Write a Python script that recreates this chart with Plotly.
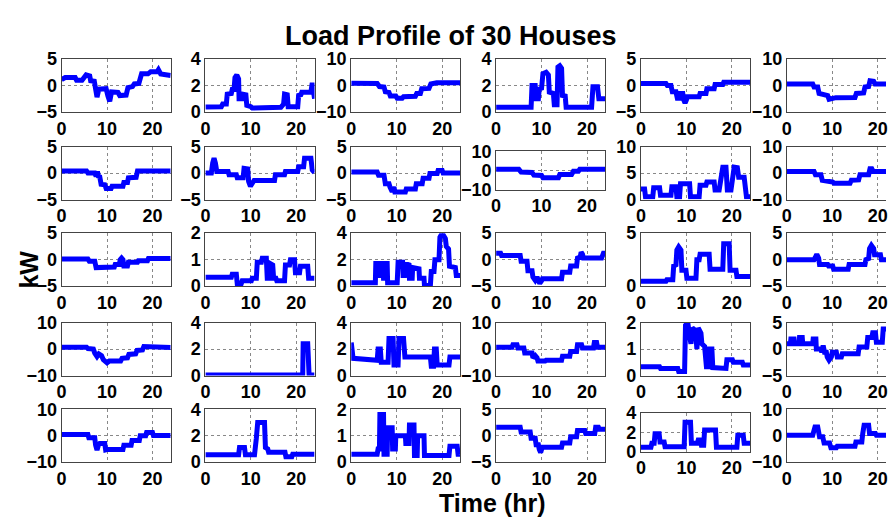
import plotly.graph_objects as go

# ---- data: (hour, kW) breakpoints ----
house01 = [(0,1.1),(0.8,1.5),(3,1.5),(3.3,1.0),(4.5,1.0),(5.4,2.0),(6.2,1.8),(6.4,0.9),(7.2,0.8),(7.5,-1.0),(7.8,-2.2),(8.2,-0.7),(9.8,-0.6),(10.2,-2.0),(10.6,-3.0),(11,-1.2),(12.4,-1.3),(12.8,-1.9),(14.2,-1.8),(14.6,-0.4),(15.6,-0.2),(16,0.3),(17,0.4),(17.6,2.2),(19,2.2),(19.6,2.6),(21,2.6),(21.3,3.0),(21.8,2.2),(24,1.9)]
house02 = [(0,0.37),(3.5,0.4),(3.8,0.6),(4.6,0.6),(4.8,1.35),(5.7,1.4),(5.9,1.7),(6.3,1.7),(6.5,2.6),(6.9,2.8),(7.3,2.5),(7.4,1.0),(8,1.0),(8.2,1.35),(8.9,1.3),(9.1,0.5),(10,0.4),(10.3,0.3),(16.6,0.35),(16.9,0.5),(17.2,0.6),(17.4,1.35),(18,1.3),(18.2,0.4),(20.3,0.4),(20.5,1.25),(21,1.3),(21.2,1.5),(23.2,1.5),(23.5,2.2),(23.8,1.1),(24,1.0)]
house03 = [(0,0.9),(5.7,0.8),(6.2,-0.4),(7.2,-0.6),(7.5,-2.4),(8.3,-2.6),(8.6,-4.0),(9.8,-4.0),(10.1,-4.8),(11.2,-4.8),(11.5,-4.2),(14.1,-4.1),(14.4,-3.0),(15.2,-3.0),(15.5,-1.2),(17.1,-1.1),(17.5,0.6),(18.5,0.8),(18.8,1.0),(24,1.0)]
house04 = [(0,0.35),(7.7,0.35),(7.9,2.0),(8.6,2.0),(8.8,1.0),(9.3,1.0),(9.5,1.75),(10,1.8),(10.3,2.9),(11,3.0),(11.5,2.8),(11.7,1.5),(12.6,1.4),(12.8,0.55),(13.4,0.55),(13.6,3.4),(14,3.5),(14.4,3.3),(14.6,1.25),(15.2,1.2),(15.4,0.35),(21,0.35),(21.3,1.9),(22.3,1.9),(22.6,1.0),(24,1.0)]
house05 = [(0,0.4),(5.5,0.4),(5.8,0),(6.6,0),(6.9,-1.2),(7.7,-1.2),(8,-2.4),(8.5,-2.4),(8.7,-1.5),(9.2,-1.5),(9.4,-2.7),(9.7,-3.3),(10,-2.7),(10.2,-2.1),(12.8,-2.1),(13,-1.5),(14.3,-1.5),(14.5,-0.6),(16.1,-0.6),(16.3,0.2),(18,0.2),(18.2,0.6),(24,0.6)]
house06 = [(0,0.6),(5.7,0.6),(6,-0.6),(6.8,-0.6),(7.1,-3),(7.9,-3.2),(8.2,-3.6),(9,-3.8),(9.3,-5.2),(10.5,-5.0),(10.8,-4.6),(15,-4.5),(15.3,-3),(16.9,-2.8),(17.2,-0.6),(18,-0.4),(18.3,1.8),(19.1,1.6),(19.4,0.6),(24,0.6)]
house07 = [(0,0.4),(5.5,0.4),(5.8,0),(7.3,0),(7.6,-0.6),(7.9,0.3),(8.1,-0.6),(8.4,-0.7),(8.7,-2.1),(9.5,-2.2),(9.8,-2.9),(10.9,-2.9),(11.1,-2.5),(13.5,-2.5),(13.7,-1.8),(14.5,-1.8),(14.7,-0.9),(16.4,-0.8),(16.7,0.4),(24,0.4)]
house08 = [(0,0),(1.3,0),(1.6,1.9),(1.9,2.8),(2.2,1.9),(2.5,0.3),(5,0.3),(5.2,-0.3),(6.8,-0.3),(7,-0.9),(8.3,-0.9),(8.5,0.9),(9.3,0.8),(9.5,-1.6),(9.9,-2.5),(10.5,-1.6),(10.7,-1.4),(15.2,-1.4),(15.4,-0.3),(17.4,-0.3),(17.6,0.3),(20.3,0.3),(20.5,1.2),(21.6,1.2),(21.8,2.8),(23.2,2.8),(23.5,0.6),(24,0.1)]
house09 = [(0,0.2),(5.7,0.2),(6,-0.4),(7.2,-0.4),(7.5,-2),(8.3,-2),(8.5,-2.6),(9,-3.5),(9.4,-2.6),(9.6,-3.6),(11.9,-3.6),(12.1,-3),(14.1,-3),(14.3,-2),(15.6,-2),(15.8,-1),(17.1,-1),(17.3,-0.1),(18.9,-0.1),(19.1,0.5),(20,0.5),(20.2,0),(24,0)]
house10 = [(0,0.7),(5,0.7),(5.5,-0.7),(7.9,-0.9),(8.3,-2.3),(10,-2.5),(10.3,-3.7),(13.7,-3.7),(14,-2),(16.6,-2),(17,-0.3),(18.1,-0.3),(18.4,0.7),(24,0.7)]
house11 = [(0,2),(0.8,2),(1,0.5),(2.6,0.5),(2.8,2.2),(4.1,2.2),(4.3,0.8),(6.6,0.8),(6.8,2.4),(7.7,2.4),(7.9,0.5),(8.5,0.5),(8.7,3.0),(10.7,3.0),(10.9,0.5),(12.8,0.5),(13,2.7),(14.3,2.7),(14.5,3.3),(16.1,3.3),(16.3,1.8),(17.2,1.8),(18,6.1),(18.7,6.1),(19,1.8),(19.8,1.8),(20.5,6.1),(21.2,6.0),(21.5,4.2),(22.7,4.2),(23.2,0.5),(24,0.5)]
house12 = [(0,0.6),(6,0.6),(6.3,-0.6),(7.5,-0.6),(7.8,-2.7),(8.6,-2.8),(8.9,-3.3),(10.1,-3.4),(10.4,-3.9),(13.9,-3.9),(14.2,-2.7),(15.8,-2.6),(16.1,-0.6),(18,-0.6),(18.3,1.6),(18.7,1.6),(19,0.6),(24,0.6)]
house13 = [(0,0.1),(5.8,0.1),(6.1,-0.3),(7.3,-0.3),(7.6,-1.5),(8.7,-1.5),(8.9,-1.4),(11.6,-1.4),(11.8,-0.9),(12.7,-0.9),(12.9,0),(13.2,0.3),(13.5,0),(13.7,-1.2),(14.5,-1.2),(14.7,-0.5),(16.7,-0.5),(16.9,-0.2),(18.9,-0.2),(19.1,0.2),(24,0.2)]
house14 = [(0,0.33),(5.7,0.33),(5.9,0.45),(6.8,0.45),(7,0.1),(7.9,0.1),(8.1,0.2),(10.1,0.2),(10.3,0.3),(11.2,0.3),(11.4,0.9),(12.3,0.9),(12.5,1.05),(13.4,1.05),(13.6,0.3),(14.1,0.3),(14.3,0.85),(14.8,0.8),(15,0.3),(15.5,0.3),(15.7,0.2),(17.4,0.2),(17.6,0.8),(18.5,0.8),(18.7,1.0),(19.6,1.0),(19.8,0.5),(20.7,0.5),(20.9,0.75),(22.5,0.75),(22.7,0.3),(24,0.3)]
house15 = [(0,0.25),(5.3,0.25),(5.4,1.7),(6,1.7),(6.1,0.8),(6.4,0.8),(6.5,1.7),(7,1.7),(7.1,0.6),(7.3,0.6),(7.4,1.7),(7.9,1.7),(8,0.25),(10.1,0.25),(10.3,1.8),(11.3,1.8),(11.4,0.8),(11.7,0.8),(11.8,1.7),(12.7,1.6),(12.8,0.6),(13.4,0.6),(13.5,1.4),(14.9,1.3),(15,0.6),(16,0.6),(16.1,0.05),(17.4,0.05),(17.6,1.1),(18.2,1.1),(18.4,2.0),(19.3,2.0),(19.5,3.7),(20,4.0),(20.7,3.6),(20.9,3.0),(21.4,2.8),(21.6,1.5),(22.9,1.4),(23.1,0.8),(24,0.8)]
house16 = [(0,1.2),(1,1.2),(1.2,0.8),(5.3,0.8),(5.5,-0.3),(6.8,-0.3),(7,-2.1),(7.9,-2.1),(8.1,-3.3),(8.6,-3.9),(9,-3.3),(9.2,-4.0),(9.6,-4.5),(10,-4.0),(10.2,-3.6),(14.4,-3.6),(14.6,-2.4),(16.2,-2.4),(16.4,-1.2),(17.7,-1.2),(17.9,0.3),(18.5,0.5),(18.7,1.4),(19.0,1.0),(19.2,0.3),(23.2,0.3),(23.6,1.2),(24,1.2)]
house17 = [(0,0.45),(5.5,0.45),(5.7,0.6),(7,0.6),(7.2,1.9),(7.7,2.0),(7.9,3.4),(8.3,3.7),(8.8,3.4),(9,1.5),(9.9,1.5),(10.1,0.75),(12.1,0.75),(12.3,2.5),(12.8,2.5),(13,3.0),(15,3.0),(15.2,1.6),(18,1.6),(18.2,4.0),(19.4,4.0),(19.6,1.5),(20.9,1.5),(21.1,0.9),(24,0.9)]
house18 = [(0,0),(6,0),(6.2,0.3),(6.6,1.0),(7,0.3),(7.2,-0.9),(9,-0.9),(9.2,-1.2),(10.1,-1.2),(10.3,-1.8),(13.5,-1.8),(13.7,-0.9),(17.2,-0.9),(17.4,0),(18,0.2),(18.2,2.1),(18.6,2.7),(19.1,2.1),(19.3,0.9),(20.6,0.9),(20.8,0),(24,0)]
house19 = [(0,0.7),(5.5,0.7),(5.8,0.2),(7,0),(7.3,-1.5),(7.8,-2.8),(8.2,-1.8),(8.8,-2.5),(9.2,-4),(10,-5.2),(10.5,-4.5),(13,-4.5),(13.3,-3.5),(14.5,-3.3),(14.8,-2),(16.3,-1.8),(16.6,-0.5),(17.8,-0.3),(18.1,1),(19,1),(19.3,0.6),(24,0.6)]
house20 = [(0,0.05),(21.4,0.05),(21.5,2.4),(22.5,2.4),(22.8,0.05),(24,0.05)]
house21 = [(0,2.5),(0.4,1.3),(5.7,1.15),(5.9,2.0),(6.4,2.0),(6.6,1.0),(8.1,1.0),(8.3,2.8),(9.2,2.8),(9.4,0.8),(10.3,0.8),(10.5,2.8),(11.5,2.8),(11.8,1.4),(17.4,1.4),(17.6,0.7),(18.1,0.7),(18.3,2.0),(18.7,2.0),(18.9,0.8),(21.5,0.8),(21.7,1.4),(24,1.4)]
house22 = [(0,0.7),(3.5,0.7),(3.7,1.6),(4.6,1.6),(4.8,0.4),(6.1,0.4),(6.3,-1.5),(7.9,-1.5),(8.1,-3.3),(8.6,-2.5),(9,-3.3),(9.2,-4.5),(10.8,-4.5),(11,-4.2),(14.4,-4.2),(14.6,-2.7),(16.2,-2.7),(16.4,-0.9),(17.7,-0.9),(17.9,1.6),(18.8,1.6),(19,0.4),(21.4,0.4),(21.6,2.5),(22.1,2.5),(22.3,0.7),(24,0.7)]
house23 = [(0,0.33),(4.1,0.33),(4.3,0.27),(8.1,0.27),(8.3,0.15),(9.6,0.15),(9.8,1.9),(10.3,2.0),(10.7,1.5),(11,1.2),(11.3,1.8),(12,1.7),(12.3,1.0),(12.6,1.8),(13.2,1.6),(13.4,1.2),(14,1.1),(14.2,0.8),(14.4,0.33),(14.8,0.33),(15,1.0),(15.6,1.0),(15.8,0.3),(18.7,0.27),(18.9,0.6),(20.1,0.6),(20.3,0.5),(22.3,0.5),(22.5,0.4),(24,0.4)]
house24 = [(0,1),(0.8,1),(0.9,1.9),(1.6,1.9),(1.7,1),(2.7,1),(2.8,2.2),(3.4,2.2),(3.5,1),(5.7,1),(5.8,1.9),(6.4,1.9),(6.5,0),(7.5,0),(7.7,-0.6),(8,0.7),(8.3,-0.6),(8.7,-0.6),(8.9,-1.5),(9.3,-2.1),(9.8,-1.5),(10,-0.6),(10.9,-0.6),(11.1,-1.5),(12,-1.5),(12.2,-0.9),(15.7,-0.9),(15.9,0.4),(17.6,0.4),(17.8,2.2),(18.7,2.2),(18.9,3.1),(19.5,3.1),(19.7,1.3),(21,1.3),(21.2,3.8),(24,3.8)]
house25 = [(0,0.4),(5.8,0.4),(6,-0.8),(7.3,-0.8),(7.5,-3.6),(7.8,-5.4),(8.1,-3.6),(8.4,-3.0),(9.5,-3.0),(9.7,-5.4),(10.2,-5.2),(13.5,-5.2),(13.7,-3.6),(15.3,-3.6),(15.5,-1.8),(17.1,-1.8),(17.3,0),(18.5,0),(18.7,1.2),(20,1.2),(20.2,0.1),(24,0.1)]
house26 = [(0,0.55),(7.3,0.55),(7.5,1.1),(8.6,1.1),(8.8,0.55),(10.8,0.55),(11.2,1.8),(11.5,3.0),(13,3.0),(13.2,1.1),(13.7,1.0),(13.9,0.75),(17.5,0.75),(17.7,0.4),(19,0.4),(19.2,0.6),(24,0.6)]
house27 = [(0,0.3),(5.7,0.3),(5.9,0.5),(6.2,0.5),(6.3,1.8),(7.1,1.8),(7.2,0.3),(7.9,0.3),(8.0,1.3),(9,1.3),(9.1,0.5),(9.7,0.5),(9.8,1.0),(11.9,1.0),(12.0,0.7),(12.7,0.7),(12.8,1.4),(13.8,1.4),(13.9,0.25),(14.5,0.25),(14.6,1.0),(16,1.0),(16.1,0.25),(21.5,0.25),(21.7,0.6),(23.3,0.6),(23.5,0.3),(24,0.3)]
house28 = [(0,1.6),(5.3,1.6),(5.5,0.7),(7.5,0.7),(7.7,-0.5),(8.6,-0.5),(8.8,-1.7),(9.3,-1.7),(9.5,-2.6),(9.8,-3.2),(10,-2.6),(10.2,-2.2),(14.4,-2.2),(14.6,-1.4),(16.2,-1.4),(16.4,-0.2),(17.7,-0.2),(17.9,1.0),(19.5,1.0),(19.7,0.4),(21.7,0.4),(21.9,1.6),(22.5,1.6),(22.7,1.2),(24,1.2)]
house29 = [(0,0.45),(2.2,0.45),(2.4,0.85),(2.9,0.85),(3.1,1.85),(4,1.85),(4.2,1.0),(5.1,1.0),(5.3,0.5),(9.5,0.5),(9.7,3.05),(10.9,3.05),(11.1,0.85),(12.4,0.85),(12.6,1.2),(13.1,1.2),(13.3,0.65),(13.8,0.65),(14,2.25),(16.4,2.25),(16.6,0.45),(21.1,0.45),(21.3,1.7),(22.5,1.7),(22.7,0.85),(24,0.85)]
house30 = [(0,0.2),(5.7,0.2),(6.2,3.3),(6.8,3.3),(7.2,-0.4),(7.9,-0.4),(8.2,-2.8),(9.4,-2.8),(9.7,-4.6),(10.9,-4.6),(11.1,-4.0),(15,-4.0),(15.2,-2.4),(16.5,-2.4),(16.7,0.8),(17,3.9),(18,3.9),(18.2,0.8),(19.5,0.8),(19.7,0.2),(24,0.2)]

houses = [house01, house02, house03, house04, house05, house06,
          house07, house08, house09, house10, house11, house12,
          house13, house14, house15, house16, house17, house18,
          house19, house20, house21, house22, house23, house24,
          house25, house26, house27, house28, house29, house30]

y_limits = [(-5,5),(0,4),(-10,10),(0,4),(-5,5),(-10,10),
            (-5,5),(-5,5),(-5,5),(-10,10),(0,10),(-10,10),
            (-5,5),(0,2),(0,4),(-5,5),(0,5),(-5,5),
            (-10,10),(0,4),(0,4),(-10,10),(0,2),(-5,5),
            (-10,10),(0,4),(0,2),(-5,5),(0,4),(-10,10)]
y_ticks = [[-5,0,5],[0,2,4],[-10,0,10],[0,2,4],[-5,0,5],[-10,0,10],
           [-5,0,5],[-5,0,5],[-5,0,5],[-10,0,10],[0,5,10],[-10,0,10],
           [-5,0,5],[0,1,2],[0,2,4],[-5,0,5],[0,5],[-5,0,5],
           [-10,0,10],[0,2,4],[0,2,4],[-10,0,10],[0,1,2],[-5,0,5],
           [-10,0,10],[0,2,4],[0,1,2],[-5,0,5],[0,2,4],[-10,0,10]]
x_ticks = [0, 10, 20]
hour_span = 24
title_text = "Load Profile of 30 Houses"
x_title = "Time (hr)"
y_title = "kW"

# ---- layout geometry (pixels) ----
W, H = 888, 526
col_left = [57, 202, 349, 495, 641, 788]
row_top = [51, 142, 232, 325, 415]
box_w, box_h = 110, 55
special_box = {10: (147, 187), 29: (419, 459)}

FONT = "Liberation Sans, Arial, Helvetica, sans-serif"
tickfont = dict(family=FONT, size=18, color="black", weight="bold")

fig = go.Figure()
layout = {}
for i, pts in enumerate(houses):
    n = i + 1
    r, c = divmod(i, 6)
    x0 = col_left[c]
    x1 = min(x0 + box_w, W)
    y0, y1 = special_box.get(n, (row_top[r], row_top[r] + box_h))
    xr = [0, hour_span * (x1 - x0) / box_w]
    sfx = "" if n == 1 else str(n)
    fig.add_trace(go.Scatter(
        x=[p[0] for p in pts], y=[p[1] for p in pts], mode="lines",
        line=dict(color="#0000ff", width=5), showlegend=False,
        hoverinfo="skip", xaxis="x" + sfx, yaxis="y" + sfx))
    common = dict(showgrid=True, gridcolor="#888", griddash="dot", gridwidth=1,
                  showline=True, linecolor="#444", linewidth=1,
                  zeroline=False, ticks="", tickfont=tickfont, fixedrange=True,
                  ticklabeloverflow="allow")
    layout["xaxis" + sfx] = dict(domain=[x0 / W, x1 / W], range=xr,
                                 anchor="y" + sfx, tickvals=x_ticks,
                                 mirror=True, **common)
    layout["yaxis" + sfx] = dict(domain=[1 - y1 / H, 1 - y0 / H],
                                 range=list(y_limits[i]), anchor="x" + sfx,
                                 tickvals=y_ticks[i], mirror=(c != 5),
                                 **common)

fig.update_layout(**layout)
fig.update_layout(
    width=W, height=H, margin=dict(l=0, r=0, t=0, b=0),
    paper_bgcolor="white", plot_bgcolor="white",
    annotations=[
        dict(text=title_text, x=450 / W, y=1 - 27 / H, xref="paper", yref="paper",
             showarrow=False, xanchor="center", yanchor="middle",
             font=dict(family=FONT, size=27, color="black", weight="bold")),
        dict(text=x_title, x=491 / W, y=1 - 512 / H, xref="paper", yref="paper",
             showarrow=False, xanchor="center", yanchor="middle",
             font=dict(family=FONT, size=25, color="black", weight="bold")),
        dict(text=y_title, x=24 / W, y=1 - 270 / H, xref="paper", yref="paper",
             showarrow=False, xanchor="center", yanchor="middle", textangle=-90,
             font=dict(family=FONT, size=25, color="black", weight="bold")),
    ],
)
fig.write_html("out.html", config={"displayModeBar": False},
               post_script="document.body.style.margin='0';document.body.style.overflow='hidden';")
